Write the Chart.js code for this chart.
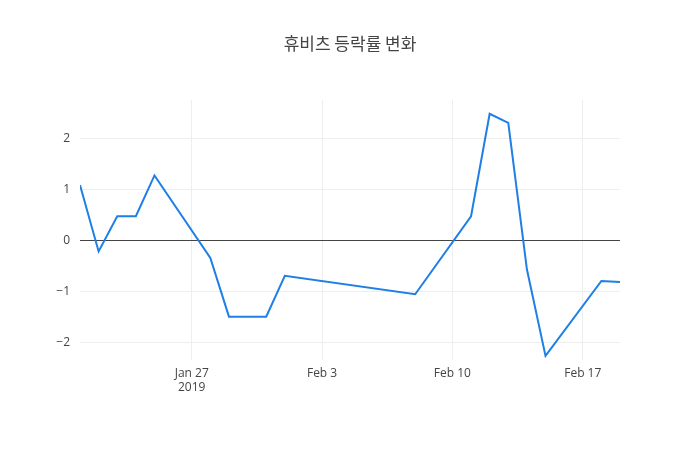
<!DOCTYPE html>
<html><head><meta charset="utf-8">
<script src="https://cdn.jsdelivr.net/npm/chart.js@4"></script>
<style>body{margin:0;background:#fff}#w{width:700px;height:450px}</style>
</head><body><div id="w"><canvas id="c"></canvas></div>
<script>
const dates=["2019-01-21","2019-01-22","2019-01-23","2019-01-24","2019-01-25","2019-01-28","2019-01-29","2019-01-31","2019-02-01","2019-02-08","2019-02-11","2019-02-12","2019-02-13","2019-02-14","2019-02-15","2019-02-18","2019-02-19"];
const values=[1.08,-0.22,0.47,0.47,1.27,-0.35,-1.5,-1.5,-0.7,-1.06,0.47,2.48,2.3,-0.57,-2.27,-0.8,-0.82];
const tickDays=[6,13,20,27];
const tickLabels=[["Jan 27","2019"],"Feb 3","Feb 10","Feb 17"];
const yTicks=[-2,-1,0,1,2];
const base=Date.UTC(2019,0,21);
const pts=dates.map((d,i)=>({x:(Date.parse(d)-base)/86400000,y:values[i]}));
const font={family:"'Open Sans', sans-serif",size:12};
new Chart(document.getElementById('c'),{
type:'line',
data:{datasets:[{data:pts,borderColor:'#1f7fe5',borderWidth:2,pointRadius:0,tension:0,fill:false}]},
options:{responsive:true,maintainAspectRatio:false,animation:false,
layout:{padding:{top:100,right:80,left:0,bottom:0}},
plugins:{legend:{display:false},tooltip:{enabled:false}},
scales:{
x:{type:'linear',min:0,max:29,
afterBuildTicks:s=>{s.ticks=tickDays.map(v=>({value:v}))},
afterFit:s=>{s.height=90},
ticks:{font,color:'#444',padding:6,callback:(v)=>tickLabels[tickDays.indexOf(v)]},
grid:{color:'#eee',drawTicks:false},border:{display:false}},
y:{min:-2.35,max:2.75,
afterBuildTicks:s=>{s.ticks=yTicks.map(v=>({value:v}))},
afterFit:s=>{s.width=80},
ticks:{font,color:'#444',padding:10,callback:v=>String(v).replace('-','\u2212')},
grid:{color:c=>c.tick&&c.tick.value===0?'#444':'#eee',drawTicks:false},border:{display:false}}
}},
plugins:[{id:'t',afterDraw(ch){const x=ch.ctx;x.save();x.font="17px 'Noto Sans CJK KR'";x.fillStyle='#444';x.textAlign='center';x.textBaseline='middle';x.fillText('휴비츠 등락률 변화',350,44);x.restore();}}]
});
</script></body></html>
